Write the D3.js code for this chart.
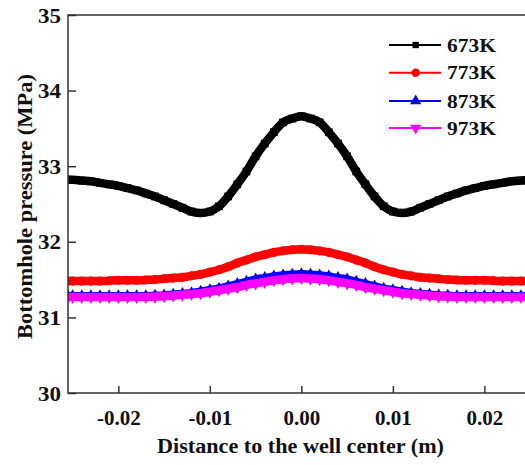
<!DOCTYPE html>
<html>
<head>
<meta charset="utf-8">
<script src="https://cdn.jsdelivr.net/npm/d3@7"></script>
<style>
  html, body { margin: 0; padding: 0; background: #fff; }
  svg text { font-family: "Liberation Serif", "Times New Roman", serif; font-weight: bold; fill: #111; }
</style>
</head>
<body>
<svg id="chart" width="525" height="465"></svg>
<script>
// ---- data ----
const xs = [-0.0255,-0.025,-0.024,-0.023,-0.022,-0.021,-0.020,-0.019,-0.018,-0.017,-0.016,-0.015,-0.014,-0.013,-0.012,-0.011,-0.010,-0.009,-0.008,-0.007,-0.006,-0.005,-0.004,-0.003,-0.002,-0.001,0,
  0.001,0.002,0.003,0.004,0.005,0.006,0.007,0.008,0.009,0.010,0.011,0.012,0.013,0.014,0.015,0.016,0.017,0.018,0.019,0.020,0.021,0.022,0.023,0.024,0.025,0.0255];

const p673 = [32.82,32.82,32.81,32.80,32.78,32.76,32.74,32.71,32.68,32.64,32.60,32.55,32.50,32.45,32.40,32.38,32.40,32.47,32.60,32.76,32.93,33.13,33.30,33.45,33.58,33.63,33.66,
  33.63,33.58,33.45,33.30,33.13,32.93,32.76,32.60,32.47,32.40,32.38,32.40,32.45,32.50,32.55,32.60,32.64,32.68,32.71,32.74,32.76,32.78,32.80,32.81,32.82,32.82];

const p773 = [31.48,31.48,31.48,31.48,31.48,31.485,31.49,31.49,31.49,31.495,31.50,31.51,31.52,31.53,31.55,31.57,31.60,31.63,31.67,31.72,31.76,31.80,31.83,31.86,31.88,31.895,31.90,
  31.895,31.88,31.86,31.83,31.80,31.76,31.72,31.67,31.63,31.60,31.57,31.55,31.53,31.52,31.51,31.50,31.495,31.49,31.49,31.49,31.485,31.48,31.48,31.48,31.48,31.48];

const p873 = [31.28,31.28,31.28,31.28,31.28,31.28,31.28,31.28,31.28,31.28,31.285,31.29,31.30,31.31,31.32,31.34,31.36,31.38,31.41,31.44,31.47,31.50,31.52,31.54,31.555,31.565,31.57,
  31.565,31.555,31.54,31.52,31.50,31.47,31.44,31.41,31.38,31.36,31.34,31.32,31.31,31.30,31.29,31.285,31.28,31.28,31.28,31.28,31.28,31.28,31.28,31.28,31.28,31.28];

const p973 = [31.27,31.27,31.27,31.27,31.27,31.27,31.27,31.27,31.27,31.27,31.275,31.28,31.29,31.30,31.31,31.32,31.34,31.36,31.38,31.40,31.43,31.45,31.47,31.49,31.505,31.515,31.52,
  31.515,31.505,31.49,31.47,31.45,31.43,31.40,31.38,31.36,31.34,31.32,31.31,31.30,31.29,31.28,31.275,31.27,31.27,31.27,31.27,31.27,31.27,31.27,31.27,31.27,31.27];

const seriesNames = ["673K", "773K", "873K", "973K"];
const seriesColors = ["#000000", "#ff0000", "#0000ff", "#ff00ff"];
const seriesSymbols = [d3.symbolSquare, d3.symbolCircle, d3.symbolTriangle, d3.symbolTriangle];
const seriesValues = [p673, p773, p873, p973];

const xTicks = [-0.02, -0.01, 0.00, 0.01, 0.02];
const xTickLabels = ["-0.02", "-0.01", "0.00", "0.01", "0.02"];
const yTicks = [30, 31, 32, 33, 34, 35];
const xTitle = "Distance to the well center (m)";
const yTitle = "Bottomhole pressure (MPa)";

// ---- layout ----
const svg = d3.select("#chart");
const mLeft = 68, mTop = 15, mBottom = 393, mRight = 534.7;

const x = d3.scaleLinear().domain([-0.0255, 0.0255]).range([mLeft, mRight]);
const y = d3.scaleLinear().domain([30, 35]).range([mBottom, mTop]);

const plot = svg.append("g");
plot.append("clipPath").attr("id", "clip").append("rect")
  .attr("x", mLeft).attr("y", mTop).attr("width", mRight - mLeft).attr("height", mBottom - mTop);

const line = d3.line().x(d => x(d[0])).y(d => y(d[1])).curve(d3.curveMonotoneX);

const gSeries = plot.append("g").attr("clip-path", "url(#clip)");
seriesValues.forEach((vals, i) => {
  const pts = xs.map((xv, j) => [xv, vals[j]]);
  gSeries.append("path").datum(pts)
    .attr("d", line)
    .attr("fill", "none")
    .attr("stroke", seriesColors[i])
    .attr("stroke-width", 8.5)
    .attr("stroke-linejoin", "round");
  const sym = d3.symbol().type(seriesSymbols[i]).size(i === 0 ? 60 : 64);
  gSeries.selectAll(null).data(pts).enter().append("path")
    .attr("d", sym)
    .attr("fill", seriesColors[i])
    .attr("transform", d => `translate(${x(d[0])},${y(d[1])})${i === 3 ? " rotate(180)" : ""}`);
});

// ---- axes ----
const axisColor = "#333";
const fontFam = "Liberation Serif, Times New Roman, serif";
const xAxis = d3.axisBottom(x).tickValues(xTicks).tickFormat((d, i) => xTickLabels[i])
  .tickSizeInner(-7).tickSizeOuter(0).tickPadding(17);
const gx = svg.append("g").attr("transform", `translate(0,${mBottom})`).call(xAxis);
gx.select(".domain").remove();
gx.selectAll(".tick line").attr("stroke", axisColor).attr("stroke-width", 1.5);
gx.selectAll(".tick text").attr("font-size", 21).attr("fill", "#111")
  .attr("font-family", fontFam).attr("font-weight", "bold");

const yAxis = d3.axisLeft(y).tickValues(yTicks).tickFormat(d3.format("d"))
  .tickSizeInner(-8).tickSizeOuter(0).tickPadding(7);
const gy = svg.append("g").attr("transform", `translate(${mLeft},0)`).call(yAxis);
gy.select(".domain").remove();
gy.selectAll(".tick line").attr("stroke", axisColor).attr("stroke-width", 1.5);
gy.selectAll(".tick text").attr("font-size", 22).attr("fill", "#111")
  .attr("font-family", fontFam).attr("font-weight", "bold")
  .attr("textLength", 23).attr("lengthAdjust", "spacingAndGlyphs");

// frame
svg.append("path")
  .attr("d", `M${mRight},${mTop}H${mLeft}V${mBottom}H${mRight}`)
  .attr("fill", "none").attr("stroke", axisColor).attr("stroke-width", 1.5);

// titles
svg.append("text").attr("x", 157).attr("y", 453)
  .attr("font-size", 20).attr("textLength", 287).attr("lengthAdjust", "spacingAndGlyphs")
  .text(xTitle);
svg.append("text").attr("transform", "translate(32,339) rotate(-90)")
  .attr("font-size", 20).attr("textLength", 265).attr("lengthAdjust", "spacingAndGlyphs")
  .text(yTitle);

// ---- legend ----
const legendY = [45, 72.7, 101, 128];
const lg = svg.append("g");
seriesNames.forEach((name, i) => {
  const yy = legendY[i];
  lg.append("line").attr("x1", 389).attr("x2", 441).attr("y1", yy).attr("y2", yy)
    .attr("stroke", seriesColors[i]).attr("stroke-width", 2);
  lg.append("path").attr("d", d3.symbol().type(seriesSymbols[i]).size(i === 0 ? 40 : 55)())
    .attr("fill", seriesColors[i])
    .attr("transform", `translate(415.7,${yy})${i === 3 ? " rotate(180)" : ""}`);
  lg.append("text").attr("x", 447).attr("y", yy + 6.5).attr("font-size", 19)
    .attr("textLength", 49).attr("lengthAdjust", "spacingAndGlyphs").text(name);
});
</script>
</body>
</html>
